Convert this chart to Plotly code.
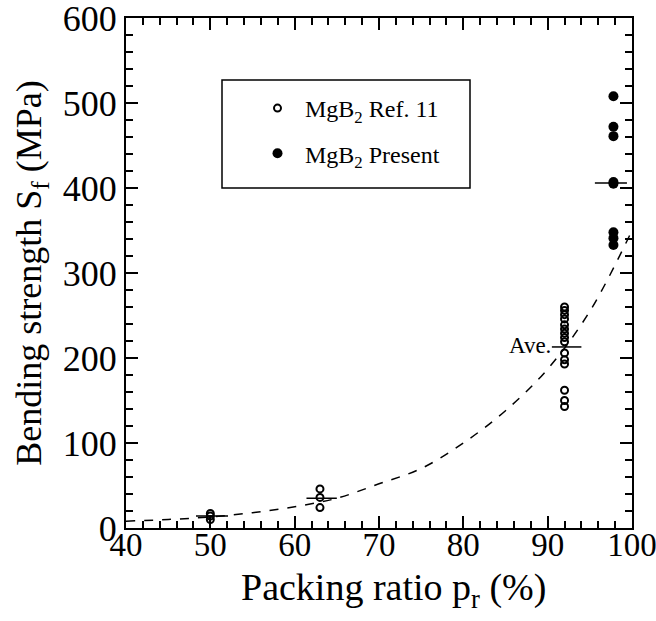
import plotly.graph_objects as go

# Ref. 11 data (open circles)
ref_x = [50, 50, 50, 63, 63, 63,
         92, 92, 92, 92, 92, 92, 92, 92, 92, 92, 92, 92, 92, 92, 92]
ref_y = [10, 14, 17, 46, 36, 24,
         260, 256, 251, 246, 239, 234, 229, 224, 219, 206, 198, 193, 162, 150, 143]

# Present data (filled circles)
pres_x = [97.8, 97.8, 97.8, 97.8, 97.8, 97.8, 97.8, 97.8]
pres_y = [508, 472, 461, 407, 405, 348, 341, 333]

# Average bars
ave_lo = [48.3, 61.4, 90.5, 95.6]
ave_hi = [52.1, 65.0, 94.0, 99.4]
ave_y = [14, 35, 213, 406]

# Dashed trend curve
fit_x = [40, 45, 50, 55, 60, 65, 70, 75, 80, 85, 90, 95, 100]
fit_y = [8, 10, 13, 18, 25, 35, 52, 70, 100, 138, 187, 255, 350]

FONT = "Liberation Serif"

L, R, T, B = 126, 24, 18, 93
PW, PH = 656 - L - R, 621 - T - B

fig = go.Figure()

fig.add_trace(go.Scatter(x=fit_x, y=fit_y, mode="lines", line=dict(color="black", width=1.5, dash="dash", shape="spline"),
                         showlegend=False, hoverinfo="skip"))

for lo, hi, yv in zip(ave_lo, ave_hi, ave_y):
    fig.add_trace(go.Scatter(x=[lo, hi], y=[yv, yv], mode="lines", line=dict(color="black", width=1.5),
                             showlegend=False, hoverinfo="skip"))

fig.add_trace(go.Scatter(x=ref_x, y=ref_y, mode="markers", name="MgB<sub>2</sub> Ref. 11", legendgroup="a",
                         marker=dict(symbol="circle-open", size=7, color="black", line=dict(width=2))))
fig.add_trace(go.Scatter(x=pres_x, y=pres_y, mode="markers", name="MgB<sub>2</sub> Present", legendgroup="b",
                         marker=dict(symbol="circle", size=10, color="black")))

fig.add_annotation(x=90.6, y=213, text="Ave.", showarrow=False, xanchor="right", yanchor="bottom",
                   font=dict(family=FONT, size=23, color="black"), yshift=-13)

# x-axis title placed as annotation to match the original's offset
fig.add_annotation(xref="paper", yref="paper", x=(393 - L) / PW, y=-(590 - (T + PH)) / PH,
                   text="Packing ratio p<sub>r</sub> (%)", showarrow=False, xanchor="center", yanchor="middle",
                   font=dict(family=FONT, size=38, color="black"))

# legend box
fig.add_shape(type="rect", xref="paper", yref="paper",
              x0=(222 - L) / PW, x1=(470 - L) / PW,
              y0=(T + PH - 188) / PH, y1=(T + PH - 80) / PH,
              line=dict(color="black", width=1.5))

axis_common = dict(showline=True, linecolor="black", linewidth=2, mirror="ticks",
                   ticks="inside", tickcolor="black", tickwidth=1.5, ticklen=12,
                   showgrid=False, zeroline=False, automargin=False,
                   ticklabeloverflow="allow")

fig.update_xaxes(range=[40, 100], dtick=10, tick0=40, ticklabelstandoff=-14,
                 tickfont=dict(family=FONT, size=33, color="black"),
                 minor=dict(dtick=2, ticks="inside", ticklen=7, tickcolor="black", tickwidth=1.5),
                 **axis_common)
fig.update_yaxes(range=[0, 600], dtick=100, tick0=0,
                 tickfont=dict(family=FONT, size=36, color="black"),
                 minor=dict(dtick=20, ticks="inside", ticklen=7, tickcolor="black", tickwidth=1.5),
                 title=dict(text="Bending strength S<sub>f</sub> (MPa)", font=dict(family=FONT, size=36, color="black"), standoff=10),
                 **axis_common)

fig.update_layout(
    width=656, height=621,
    margin=dict(l=L, r=R, t=T, b=B),
    paper_bgcolor="white", plot_bgcolor="white",
    legend=dict(x=(250 - L) / PW, y=(T + PH - 86) / PH, xanchor="left", yanchor="top",
                bgcolor="rgba(0,0,0,0)", borderwidth=0,
                font=dict(family=FONT, size=24, color="black"),
                tracegroupgap=11, itemwidth=45),
    font=dict(family=FONT, color="black"),
)

fig.write_html("out.html")
